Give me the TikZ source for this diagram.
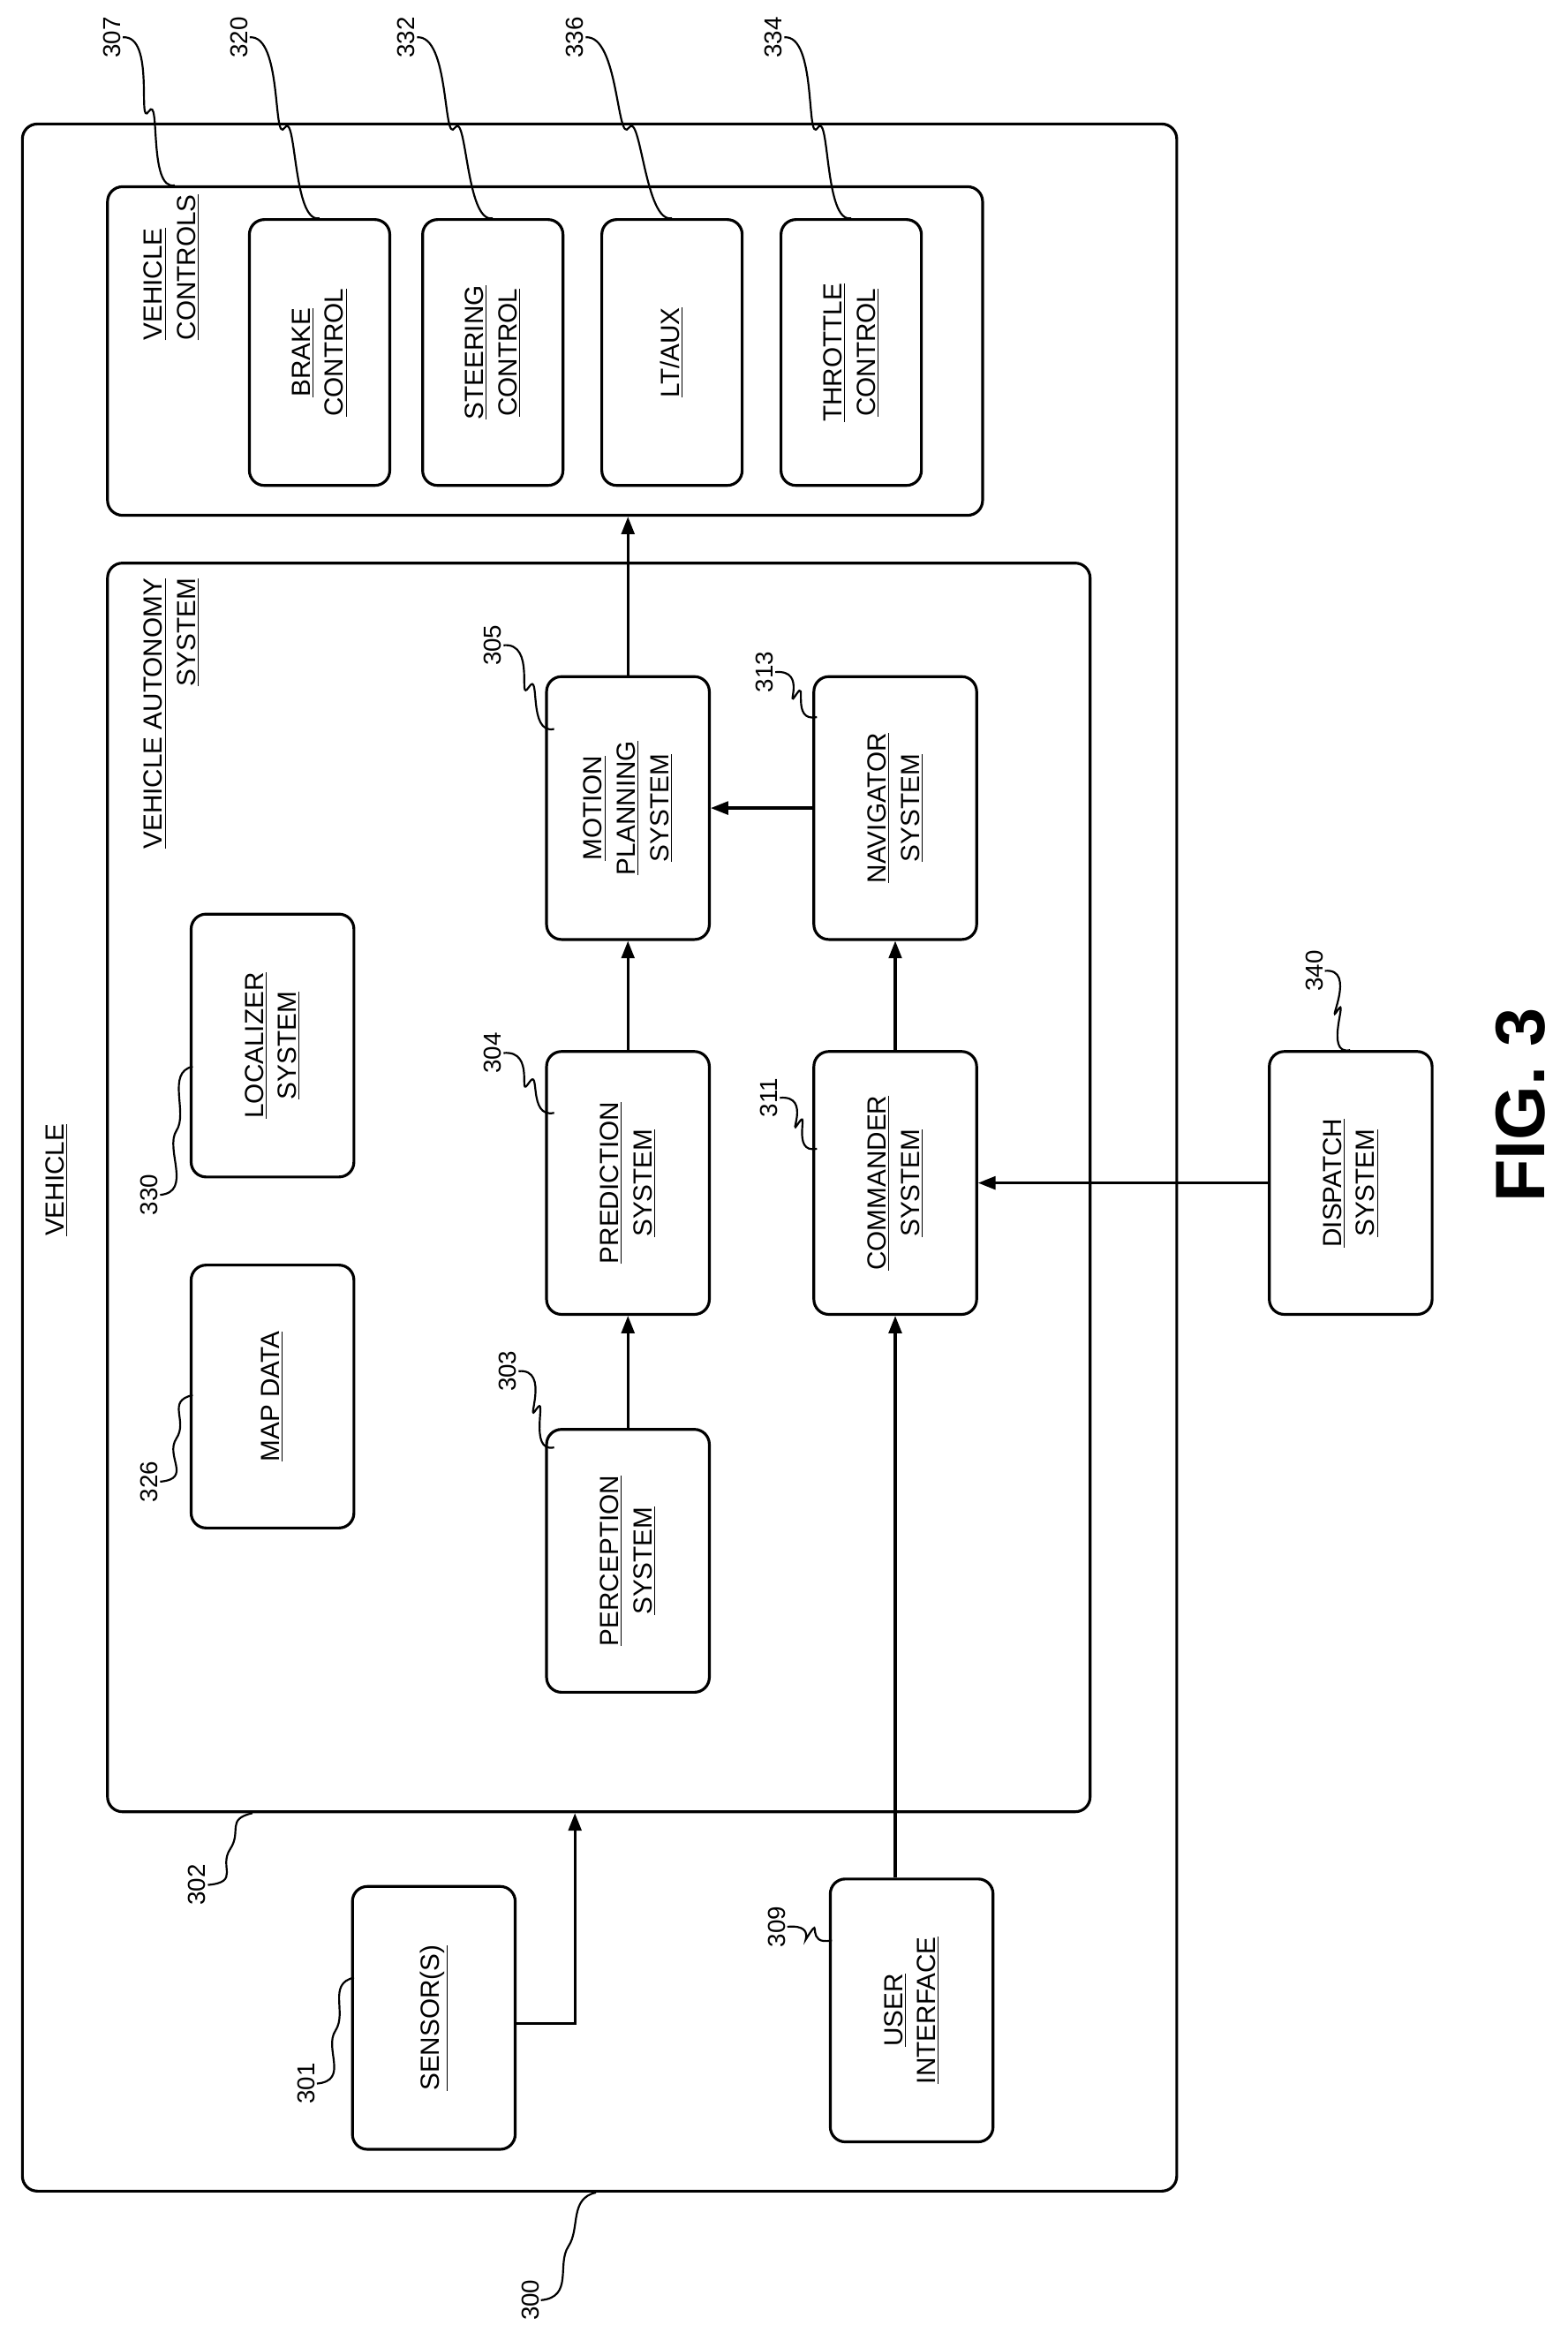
\documentclass[tikz,border=0pt]{standalone}
\usepackage{fontspec}
\setmainfont{Liberation Sans}
\usetikzlibrary{arrows.meta, positioning, fit, calc}
\newcommand{\ul}[1]{\underline{#1}}
\begin{document}
\begin{tikzpicture}[x=0.3mm, y=-0.3mm,
    blk/.style={draw, line width=1.6pt, rounded corners=3mm, inner sep=0pt},
    lbl/.style={rotate=90, align=center, font=\fontsize{15}{19}\selectfont},
    num/.style={rotate=90, font=\fontsize{14}{16}\selectfont, inner sep=1pt},
    lead/.style={line width=1.1pt},
    arr/.style={line width=1.6pt, -{Triangle[length=3.5mm, width=2.6mm]}}]
  \useasboundingbox (0,0) rectangle (1050,1562);
  % outer boxes
  \node[blk, fit={(15,83)(788,1467)}] (veh) {};
  \node[lbl, anchor=center] at (38,790) {\ul{VEHICLE}};
  \node[blk, fit={(72,125)(658,345)}] (vc) {};
  \node[lbl, anchor=west, align=left] at (115,232) {\ul{VEHICLE}\\\ul{CONTROLS}};
  \node[blk, fit={(72,377)(730,1213)}] (vas) {};
  \node[lbl, anchor=east, align=right] at (115,383) {\ul{VEHICLE AUTONOMY}\\\ul{SYSTEM}};
  % vehicle controls
  \foreach \nm/\xa/\txt in {brake/167/{\ul{BRAKE}\\\ul{CONTROL}},
      steer/283/{\ul{STEERING}\\\ul{CONTROL}}, ltaux/403/{\ul{LT/AUX}},
      throttle/523/{\ul{THROTTLE}\\\ul{CONTROL}}} {
    \node[blk, fit={(\xa,147)(\xa+94,325)}] (\nm) {};
    \node[lbl] at (\nm) {\txt};
  }
  % autonomy blocks
  \foreach \nm/\xa/\ya/\txt in {mapdata/128/847/{\ul{MAP DATA}},
      localizer/128/612/{\ul{LOCALIZER}\\\ul{SYSTEM}},
      perception/366/957/{\ul{PERCEPTION}\\\ul{SYSTEM}},
      prediction/366/704/{\ul{PREDICTION}\\\ul{SYSTEM}},
      motion/366/453/{\ul{MOTION}\\\ul{PLANNING}\\\ul{SYSTEM}},
      commander/545/704/{\ul{COMMANDER}\\\ul{SYSTEM}},
      navigator/545/453/{\ul{NAVIGATOR}\\\ul{SYSTEM}},
      sensors/236/1263/{\ul{SENSOR(S)}},
      ui/556/1258/{\ul{USER}\\\ul{INTERFACE}},
      dispatch/850/704/{\ul{DISPATCH}\\\ul{SYSTEM}}} {
    \node[blk, fit={(\xa,\ya)(\xa+109,\ya+176)}] (\nm) {};
    \node[lbl] at (\nm) {\txt};
  }
  % connectors
  \draw[arr] (perception) -- (prediction);
  \draw[arr] (prediction) -- (motion);
  \draw[arr] (motion) -- (motion.north |- vc.south);
  \draw[arr] (commander) -- (navigator);
  \draw[arr] (navigator) -- (motion);
  \draw[arr] (dispatch) -- (commander);
  \draw[arr] (ui.north -| commander.south) -- (commander.south);
  \coordinate (sbend) at (385,1355);
  \draw[arr] (sensors.east |- sbend) -- (sbend) -- (sbend |- vas.south);
  % reference numerals
  \foreach \n/\px/\py/\tg/\dx/\dy in {307/75/25/vc.north west/46/0,
      320/160/25/brake.north/0/0, 332/272/25/steer.north/0/0,
      336/385/25/ltaux.north/0/0, 334/518/25/throttle.north/0/0,
      305/330/432/motion.north west/6/36,
      313/512/450/navigator.north west/3/28,
      304/330/705/prediction.north west/6/42,
      311/515/735/commander.north west/3/66,
      303/340/918/perception.north west/6/13,
      330/100/800/localizer.north west/2/103,
      326/100/992/mapdata.north west/2/88,
      302/132/1262/vas.south west/98/0,
      301/205/1395/sensors.north west/2/62,
      309/520/1290/ui.north west/2/42,
      300/355/1540/veh.south west/385/0,
      340/880/650/dispatch.north west/55/0} {
    \node[num] (r\n) at (\px,\py) {\n};
    \coordinate (t\n) at ([shift={(\dx,\dy)}]\tg);
    \coordinate (m\n) at ($(r\n.south)!0.5!(t\n)$);
    \draw[lead] (r\n.south) .. controls +(22,-2) and +(-8,12) .. (m\n)
      .. controls +(8,-12) and +(-18,4) .. (t\n);
  }
  \node[rotate=90, font=\bfseries\fontsize{40}{44}\selectfont] (fig) at (1018,740) {FIG. 3};
\end{tikzpicture}
\end{document}
